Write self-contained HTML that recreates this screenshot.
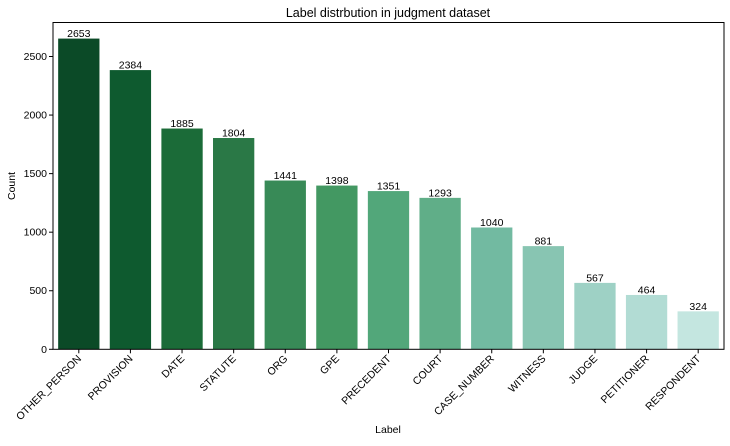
<!DOCTYPE html>
<html><head><meta charset="utf-8"><style>
body{margin:0;background:#fff;font-family:"Liberation Sans","DejaVu Sans",sans-serif}
svg text{font-family:"Liberation Sans","DejaVu Sans",sans-serif;fill:#000}
</style></head><body>
<svg id="chart" width="730" height="441" xmlns="http://www.w3.org/2000/svg">
<text x="388" y="17" font-size="12.5" text-anchor="middle">Label distrbution in judgment dataset</text>
<text x="15" y="186" font-size="10.5" text-anchor="middle" transform="rotate(-90 15 186)">Count</text>
<text x="388" y="433" font-size="10.5" text-anchor="middle">Label</text>
<g id="bars"></g><g id="axes"></g>
</svg>
<script>
const categories=["OTHER_PERSON","PROVISION","DATE","STATUTE","ORG","GPE","PRECEDENT","COURT","CASE_NUMBER","WITNESS","JUDGE","PETITIONER","RESPONDENT"];
const counts=[2653,2384,1885,1804,1441,1398,1351,1293,1040,881,567,464,324];
const yTicks=[0,500,1000,1500,2000,2500];
const colors=["#0b4a27","#0e5a2f","#1b6b38","#2a7846","#388a57","#439862","#52a77a","#60ae88","#72baa1","#88c5b2","#9ed1c5","#b2dcd4","#c4e6e0"];
const L=53,R=724,T=22.5,B=349.3;
const perUnit=(B-56.5)/2500;
const y=v=>B-v*perUnit;
const step=(R-L)/categories.length;
const x=i=>L+step*i+step/2;
const NS="http://www.w3.org/2000/svg";
const bars=document.getElementById('bars'),axes=document.getElementById('axes');
function mk(tag,attrs,parent){const e=document.createElementNS(NS,tag);for(const k in attrs)e.setAttribute(k,attrs[k]);parent.appendChild(e);return e;}
categories.forEach((c,i)=>{
  const w=step*0.8;
  const r=mk('rect',{x:x(i)-w/2,y:y(counts[i]),width:w,height:B-y(counts[i]),fill:colors[i]},bars);
  
  
  const t=mk('text',{x:x(i),y:y(counts[i])-1.5,'font-size':'10.5','text-anchor':'middle'},bars);
  t.textContent=counts[i];
  
  
  mk('line',{x1:x(i),x2:x(i),y1:B,y2:B+4,stroke:'#000','stroke-width':1},axes);
  const lx=x(i)+3,ly=B+10;
  const tl=mk('text',{x:lx,y:ly,'font-size':'10.5','text-anchor':'end',transform:`rotate(-45 ${lx} ${ly})`},axes);
  tl.textContent=c;
  
  
});
yTicks.forEach(v=>{
  mk('line',{x1:L-4,x2:L,y1:y(v),y2:y(v),stroke:'#000','stroke-width':1},axes);
  const t=mk('text',{x:L-6,y:y(v)+3.5,'font-size':'10.5','text-anchor':'end'},axes);
  t.textContent=v;
  
  
});
const fr=mk('rect',{x:L,y:T,width:R-L,height:B-T,fill:'none',stroke:'#000','stroke-width':1},axes);


</script>
</body></html>
